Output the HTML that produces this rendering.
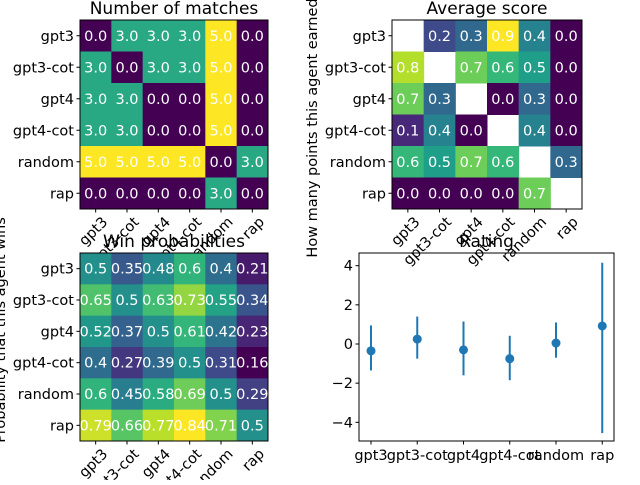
<!DOCTYPE html>
<html><head><meta charset="utf-8"><style>body{margin:0;background:#fff}svg{font-family:"DejaVu Sans","Liberation Sans",sans-serif}</style></head>
<body>
<svg id="fig" width="640" height="480" viewBox="0 0 640 480" xmlns="http://www.w3.org/2000/svg"></svg>
<script>
const agents=["gpt3","gpt3-cot","gpt4","gpt4-cot","random","rap"];
const matches=[[0,3,3,3,5,0],[3,0,3,3,5,0],[3,3,0,0,5,0],[3,3,0,0,5,0],[5,5,5,5,0,3],[0,0,0,0,3,0]];
const avgScore=[[null,0.2,0.3,0.9,0.4,0.0],[0.8,null,0.7,0.6,0.5,0.0],[0.7,0.3,null,0.0,0.3,0.0],[0.1,0.4,0.0,null,0.4,0.0],[0.6,0.5,0.7,0.6,null,0.3],[0.0,0.0,0.0,0.0,0.7,null]];
const winProb=[[0.5,0.35,0.48,0.6,0.4,0.21],[0.65,0.5,0.63,0.73,0.55,0.34],[0.52,0.37,0.5,0.61,0.42,0.23],[0.4,0.27,0.39,0.5,0.31,0.16],[0.6,0.45,0.58,0.69,0.5,0.29],[0.79,0.66,0.77,0.84,0.71,0.5]];
const ratingMean=[-0.35,0.25,-0.3,-0.75,0.05,0.92];
const ratingLow=[-1.35,-0.75,-1.6,-1.85,-0.7,-4.55];
const ratingHigh=[0.95,1.4,1.15,0.42,1.1,4.15];
const ratingTicks=[-4,-2,0,2,4];

const NS="http://www.w3.org/2000/svg";
const svg=document.getElementById('fig');
const FS='14.5';
function mk(tag,attrs,parent,text){const e=document.createElementNS(NS,tag);for(const k in attrs)e.setAttribute(k,attrs[k]);if(text!==undefined)e.textContent=text;(parent||svg).appendChild(e);return e;}
const VIR=[[68,1,84],[72,40,120],[62,74,137],[49,104,142],[38,130,142],[31,158,137],[53,183,121],[109,205,89],[180,222,44],[253,231,37]];
function viridis(t){t=Math.max(0,Math.min(1,t));const p=t*9,i=Math.min(8,Math.floor(p)),f=p-i;const a=VIR[i],b=VIR[i+1];return `rgb(${a.map((v,k)=>Math.round(v+(b[k]-v)*f)).join(',')})`;}

function heatmap(name,data,x0,y0,w,h,vmin,vmax,fmt,title){
  const g=mk('g',{});
  
  
  const n=agents.length,cw=w/n,ch=h/n;
  for(let r=0;r<n;r++)for(let c=0;c<n;c++){
    const v=data[r][c];
    if(v===null)continue;
    const rect=mk('rect',{x:x0+c*cw,y:y0+r*ch,width:cw+0.5,height:ch+0.5,fill:viridis((v-vmin)/(vmax-vmin))},g);
    
    
    const t=mk('text',{x:x0+(c+0.5)*cw,y:y0+(r+0.5)*ch+5,'text-anchor':'middle','font-size':FS,fill:'#fff'},g,fmt(v));
    
    
  }
  mk('rect',{x:x0,y:y0,width:w,height:h,fill:'none',stroke:'#000','stroke-width':1},g);
  for(let i=0;i<n;i++){
    const yy=y0+(i+0.5)*ch,xx=x0+(i+0.5)*cw;
    mk('line',{x1:x0-3.5,x2:x0,y1:yy,y2:yy,stroke:'#000'},g);
    const yl=mk('text',{x:x0-6,y:yy+5,'text-anchor':'end','font-size':FS,fill:'#000'},g,agents[i]);
    
    
    mk('line',{x1:xx,x2:xx,y1:y0+h,y2:y0+h+3.5,stroke:'#000'},g);
    const xl=mk('text',{transform:`translate(${xx+6},${y0+h+7}) rotate(-45)`,'text-anchor':'end','font-size':FS,'dominant-baseline':'hanging',fill:'#000'},g,agents[i]);
    
    
  }
  const tt=mk('text',{x:x0+w/2,y:y0-6,'text-anchor':'middle','font-size':'17','fill':'#000'},g,title);
  
  
}
const f1=v=>v.toFixed(1);
const f2=v=>String(Math.round(v*100)/100);
heatmap('matches-heatmap',matches,80,20,188,189,0,5,f1,'Number of matches');
heatmap('avg-score-heatmap',avgScore,392,20,190,189,0,0.9,f1,'Average score');
heatmap('win-prob-heatmap',winProb,80,253,188,188,0.16,0.84,f2,'Win probabilities');

const yl1=mk('text',{transform:'translate(317,128) rotate(-90)','text-anchor':'middle','font-size':FS,fill:'#000'},svg,'How many points this agent earned');


const yl2=mk('text',{transform:'translate(5,330) rotate(-90)','text-anchor':'middle','font-size':FS,fill:'#000'},svg,'Probability that this agent wins');



const RX0=359,RX1=614,RY0=253,RY1=441;
const yS=v=>344-v*19.58;
const xS=i=>371+i*46.25;
const rg=mk('g',{});


mk('rect',{x:RX0,y:RY0,width:RX1-RX0,height:RY1-RY0,fill:'none',stroke:'#000'},rg);
ratingTicks.forEach(v=>{
  const y=yS(v);
  mk('line',{x1:RX0-3.5,x2:RX0,y1:y,y2:y,stroke:'#000'},rg);
  const t=mk('text',{x:RX0-6,y:y+5,'text-anchor':'end','font-size':FS,fill:'#000'},rg,v<0?'\u2212'+Math.abs(v):String(v));
  
  
});
agents.forEach((a,i)=>{
  const x=xS(i);
  mk('line',{x1:x,x2:x,y1:RY1,y2:RY1+3.5,stroke:'#000'},rg);
  const t=mk('text',{x:x,y:RY1+19,'text-anchor':'middle','font-size':FS,fill:'#000'},rg,a);
  
  
  const eb=mk('line',{x1:x,x2:x,y1:yS(ratingLow[i]),y2:yS(ratingHigh[i]),stroke:'#1f77b4','stroke-width':2},rg);
  
  
  const p=mk('circle',{cx:x,cy:yS(ratingMean[i]),r:4.5,fill:'#1f77b4'},rg);
  
  
});
const rt=mk('text',{x:(RX0+RX1)/2,y:RY0-6,'text-anchor':'middle','font-size':'17',fill:'#000'},rg,'Rating');


</script>
</body></html>
